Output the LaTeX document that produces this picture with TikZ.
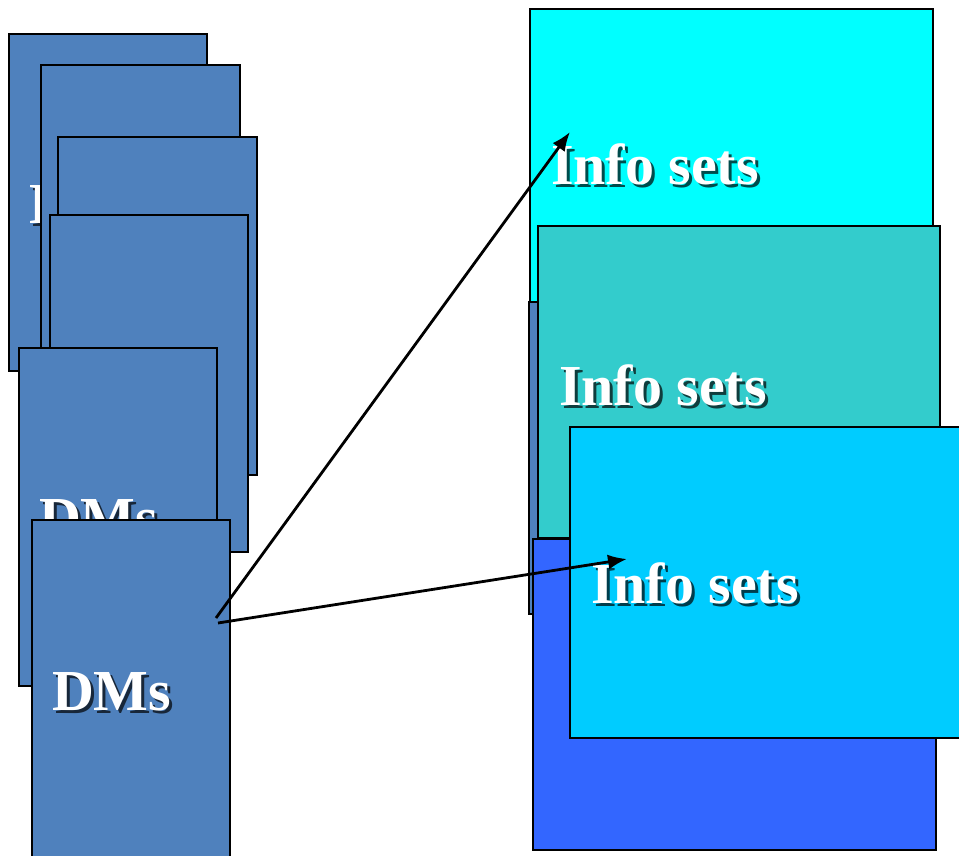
\documentclass[tikz,border=0pt]{standalone}
\usepackage{fontspec}
\setmainfont{Liberation Serif}
\usetikzlibrary{arrows.meta}
\definecolor{steel}{HTML}{4F81BD}
\definecolor{cyanA}{HTML}{00FFFF}
\definecolor{tealA}{HTML}{33CCCC}
\definecolor{blueA}{HTML}{3366FF}
\definecolor{skyA}{HTML}{00CCFF}
\newcommand{\shadowed}[2]{\rlap{\hspace{3pt}\raisebox{-3pt}{\color{#1!30!black}#2}}#2}
\begin{document}
\begin{tikzpicture}[x=1pt,y=-1pt,
  card/.style={draw=black, line width=2.7pt, anchor=north west, inner sep=0pt, outer sep=0pt},
  dmcard/.style={card, fill=steel, minimum width=198pt, minimum height=337pt},
  infocard/.style={card, minimum width=403pt, minimum height=311pt},
  lbl/.style={anchor=base west, inner sep=0pt, outer sep=0pt, font=\fontsize{58}{58}\selectfont\bfseries, text=white},
  link/.style={line width=2.8pt, -{Latex[length=19pt,width=15pt]}}
]
\clip (0,0) rectangle (959,856);
\fill[white] (0,0) rectangle (959,856);

% left stack of DMs cards
\node[dmcard] (r1) at (9,34) {};
\node[lbl] (l1) at ([shift={(20,189)}]r1.north west) {\shadowed{steel}{DMs}};
\node[dmcard, minimum width=199pt] (r2) at (41,65) {};
\node[dmcard, minimum width=199pt, minimum height=338pt] (r3) at (58,137) {};
\node[dmcard] (r4) at (50,215) {};
\node[dmcard, minimum height=338pt] (r5) at (19,348) {};
\node[lbl] (l5) at ([shift={(20,189)}]r5.north west) {\shadowed{steel}{DMs}};
\node[dmcard] (r6) at (32,520) {};
\node[lbl] (l6) at ([shift={(20,190)}]r6.north west) {\shadowed{steel}{DMs}};

% right stack of info-set cards
\node[infocard, fill=cyanA] (b1) at (530,9) {};
\node[lbl] (k1) at ([shift={(21,176)}]b1.north west) {\shadowed{cyanA}{Info sets}};
\node[infocard, fill=steel, minimum height=312pt] (b2) at (529,302) {};
\node[infocard, fill=tealA, minimum width=402pt, minimum height=312pt] (b3) at (538,226) {};
\node[lbl] (k3) at ([shift={(21,179)}]b3.north west) {\shadowed{tealA}{Info sets}};
\node[infocard, fill=blueA] (b4) at (533,539) {};
\node[infocard, fill=skyA] (b5) at (570,427) {};
\node[lbl] (k5) at ([shift={(21,176)}]b5.north west) {\shadowed{skyA}{Info sets}};

% connectors
\coordinate (s1) at (216,618);
\coordinate (t1) at (570,132);
\coordinate (s2) at (218,623);
\coordinate (t2) at (627,559);
\draw[link] (s1) -- (t1);
\draw[link] (s2) -- (t2);
\end{tikzpicture}
\end{document}
